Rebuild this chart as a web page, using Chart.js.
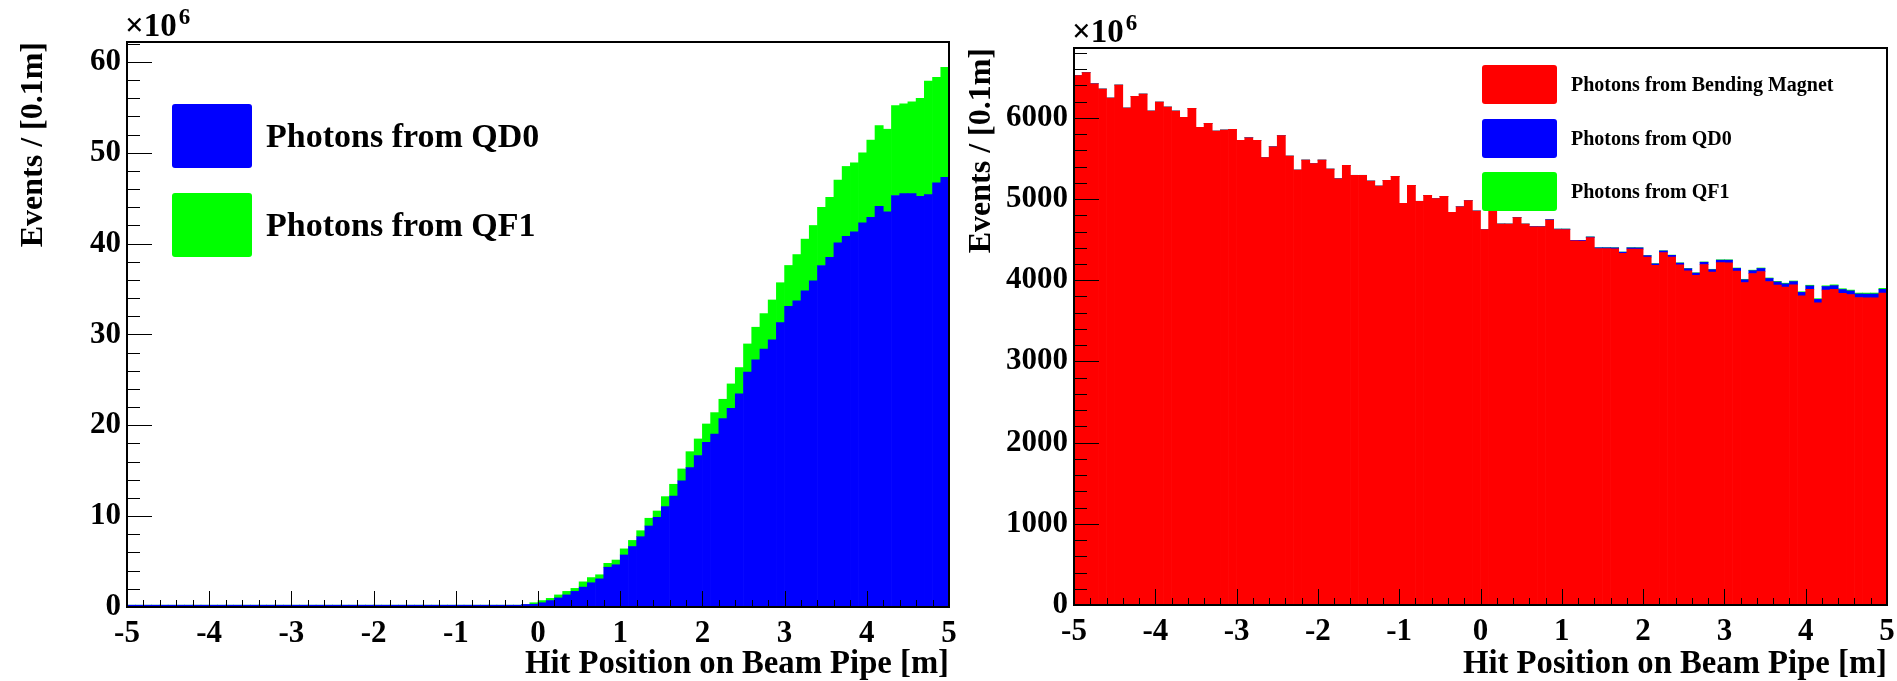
<!DOCTYPE html>
<html>
<head>
<meta charset="utf-8">
<script src="https://cdn.jsdelivr.net/npm/chart.js@4.4.1/dist/chart.umd.min.js"></script>
<style>
  body { margin: 0; width: 1897px; height: 681px; overflow: hidden; position: relative; background: #fff; }
  canvas { position: absolute; top: 0; }
  #left { left: 0; }
  #right { left: 948px; }
  .key { position: absolute; border-radius: 3px; }
  .keytext { position: absolute; white-space: nowrap; color: #000;
             font-family: "Liberation Serif", serif; font-weight: bold; }
  .expo { position: absolute; white-space: nowrap; color: #000;
          font-family: "Liberation Serif", serif; font-weight: bold;
          font-size: 33px; line-height: 33px; }
  .expo span { font-size: 23px; position: relative; top: -12px; margin-left: 2px; }
</style>
</head>
<body>
<canvas id="left" width="975" height="681"></canvas>
<canvas id="right" width="949" height="681"></canvas>

<script>
// binning: 100 bins of 0.1 m between -5 and 5
var binLow = -5, binHigh = 5, binCount = 100;
var binCenters = [];
for (var i = 0; i < binCount; i++) {
  binCenters.push(+(binLow + (i + 0.5) * (binHigh - binLow) / binCount).toFixed(2));
}

var xTickValues = [-5, -4, -3, -2, -1, 0, 1, 2, 3, 4, 5];
var yTicksLeft = [0, 10, 20, 30, 40, 50, 60];
var yTicksRight = [0, 1000, 2000, 3000, 4000, 5000, 6000];

// events per bin, units of 1e6
var qd0Values = [
  0.2, 0.2, 0.2, 0.2, 0.2, 0.2, 0.2, 0.2, 0.2, 0.2,
  0.2, 0.2, 0.2, 0.2, 0.2, 0.2, 0.2, 0.2, 0.2, 0.2,
  0.2, 0.2, 0.2, 0.2, 0.2, 0.2, 0.2, 0.2, 0.2, 0.2,
  0.2, 0.2, 0.2, 0.2, 0.2, 0.2, 0.2, 0.2, 0.2, 0.2,
  0.2, 0.2, 0.2, 0.2, 0.2, 0.2, 0.2, 0.2, 0.28, 0.3,
  0.47, 0.71, 1.0, 1.33, 1.72, 2.19, 2.67, 3.1, 4.38, 4.65,
  5.73, 6.66, 7.74, 8.92, 9.88, 11.05, 12.22, 13.88, 15.34, 16.67,
  18.14, 19.05, 20.74, 21.88, 23.46, 25.85, 27.2, 28.4, 29.4, 31.3,
  33.1, 33.7, 34.8, 35.9, 37.6, 38.5, 40.1, 40.8, 41.3, 42.3,
  42.9, 44.1, 43.5, 45.3, 45.5, 45.5, 45.2, 45.4, 46.7, 47.3
];
var qf1Values = [
  0, 0, 0, 0, 0, 0, 0, 0, 0, 0,
  0, 0, 0, 0, 0, 0, 0, 0, 0, 0,
  0, 0, 0, 0, 0, 0, 0, 0, 0, 0,
  0, 0, 0, 0, 0, 0, 0, 0, 0, 0,
  0, 0, 0, 0, 0, 0, 0, 0, 0, 0.17,
  0.24, 0.24, 0.33, 0.39, 0.33, 0.58, 0.57, 0.45, 0.43, 0.52,
  0.67, 0.67, 0.66, 0.85, 0.69, 1.1, 1.29, 1.32, 1.76, 1.83,
  2.01, 2.35, 2.13, 2.68, 2.9, 3.11, 3.6, 3.9, 4.4, 4.4,
  4.5, 5.1, 5.7, 6.1, 6.4, 6.6, 6.9, 7.7, 7.6, 7.7,
  8.5, 8.9, 9.1, 9.9, 9.9, 10.1, 10.8, 12.5, 11.6, 12.1
];
var bendValues = [
  6519, 6556, 6420, 6355, 6244, 6404, 6121, 6264, 6293, 6084,
  6194, 6133, 6084, 6006, 6117, 5883, 5932, 5837, 5850, 5858,
  5723, 5755, 5723, 5509, 5644, 5780, 5529, 5357, 5480, 5435,
  5480, 5369, 5250, 5415, 5292, 5292, 5222, 5160, 5230, 5279,
  4947, 5168, 4972, 5045, 5005, 5033, 4836, 4905, 4980, 4853,
  4623, 4895, 4692, 4691, 4771, 4690, 4658, 4657, 4742, 4625,
  4624, 4484, 4483, 4524, 4390, 4389, 4387, 4332, 4384, 4382,
  4285, 4183, 4340, 4285, 4188, 4116, 4061, 4193, 4101, 4216,
  4214, 4112, 3971, 4082, 4107, 3983, 3939, 3915, 3942, 3808,
  3887, 3720, 3879, 3888, 3840, 3823, 3786, 3784, 3784, 3841
];

var seriesNames = ["Photons from Bending Magnet", "Photons from QD0", "Photons from QF1"];
var seriesColors = ["#ff0000", "#0000ff", "#00ff00"];

var xTitle = "Hit Position on Beam Pipe [m]";
var yTitle = "Events / [0.1m]";

var serif = "'Liberation Serif', 'DejaVu Serif', serif";

function points(values) {
  return values.map(function (v, i) { return { x: binCenters[i], y: v }; });
}

function histSet(name, values) {
  var k = seriesNames.indexOf(name);
  return {
    label: name,
    data: points(values),
    backgroundColor: seriesColors[k],
    borderWidth: 0,
    borderSkipped: false,
    barPercentage: 1.0,
    categoryPercentage: 1.0,
  };
}

function fixedTicks(values) {
  return function (scale) {
    scale.ticks = values.map(function (v) { return { value: v }; });
  };
}

// ROOT style frame: inward major/minor ticks and the box
var rootFrame = {
  id: "rootFrame",
  afterDatasetsDraw: function (chart, args, opts) {
    var ctx = chart.ctx, a = chart.chartArea;
    var x = chart.scales.x, y = chart.scales.y;
    ctx.save();
    ctx.strokeStyle = "#000";
    ctx.lineWidth = 1;
    ctx.beginPath();
    var nx = Math.round((x.max - x.min) / opts.xMinor);
    for (var k = 0; k <= nx; k++) {
      var px = Math.round(x.getPixelForValue(x.min + k * opts.xMinor)) + 0.5;
      var len = k % 5 === 0 ? 16 : 7;
      ctx.moveTo(px, a.bottom);
      ctx.lineTo(px, a.bottom - len);
    }
    var ny = Math.floor(y.max / opts.yMinor + 1e-6);
    for (var j = 0; j <= ny; j++) {
      var py = Math.round(y.getPixelForValue(j * opts.yMinor)) + 0.5;
      var ylen = j % 5 === 0 ? 25 : 13;
      ctx.moveTo(a.left, py);
      ctx.lineTo(a.left + ylen, py);
    }
    ctx.stroke();
    ctx.lineWidth = 2;
    ctx.strokeRect(a.left, a.top, a.right - a.left, a.bottom - a.top);
    ctx.restore();
  },
};

function makeChart(id, datasets, cfg) {
  var ctx = document.getElementById(id).getContext("2d");
  return new Chart(ctx, {
    type: "bar",
    data: { datasets: datasets },
    plugins: [rootFrame],
    options: {
      responsive: false,
      devicePixelRatio: 1,
      animation: false,
      layout: { padding: { top: cfg.padTop, right: cfg.padRight, left: 0, bottom: 0 } },
      plugins: {
        legend: { display: false },
        tooltip: { enabled: false },
        rootFrame: { xMinor: 0.2, yMinor: cfg.yMinor },
      },
      scales: {
        x: {
          type: "linear",
          stacked: true,
          offset: false,
          min: binLow,
          max: binHigh,
          grid: { display: false, drawTicks: false, offset: false },
          border: { display: false },
          afterBuildTicks: fixedTicks(xTickValues),
          afterFit: function (scale) {
            scale.height = cfg.xHeight;
            scale.paddingLeft = 0;
            scale.paddingRight = 0;
          },
          ticks: {
            maxRotation: 0,
            autoSkip: false,
            padding: 8,
            color: "#000",
            font: { family: serif, weight: "bold", size: 31 },
            callback: function (value) { return String(value); },
          },
          title: {
            display: true,
            text: xTitle,
            align: "end",
            color: "#000",
            padding: { top: 0, bottom: 0 },
            font: { family: serif, weight: "bold", size: 32.7, lineHeight: 1 },
          },
        },
        y: {
          stacked: true,
          min: 0,
          max: cfg.yMax,
          grid: { display: false, drawTicks: false },
          border: { display: false },
          afterBuildTicks: fixedTicks(cfg.yTicks),
          afterFit: function (scale) {
            scale.width = cfg.yWidth;
          },
          ticks: {
            autoSkip: false,
            padding: 6,
            color: "#000",
            font: { family: serif, weight: "bold", size: 31 },
            callback: function (value) { return String(value); },
          },
          title: {
            display: true,
            text: yTitle,
            align: "end",
            color: "#000",
            padding: { top: 18, bottom: 0 },
            font: { family: serif, weight: "bold", size: 32, lineHeight: 1 },
          },
        },
      },
    },
  });
}

var leftChart = makeChart("left", [
  histSet("Photons from QD0", qd0Values),
  histSet("Photons from QF1", qf1Values),
], { padTop: 42, padRight: 26, xHeight: 74, yWidth: 127, yMax: 62.2, yTicks: yTicksLeft, yMinor: 2 });

var rightChart = makeChart("right", [
  histSet("Photons from Bending Magnet", bendValues),
  histSet("Photons from QD0", qd0Values),
  histSet("Photons from QF1", qf1Values),
], { padTop: 48, padRight: 10, xHeight: 76, yWidth: 126, yMax: 6860, yTicks: yTicksRight, yMinor: 200 });

// "x10^6" exponent above each frame
function addExponent(chart, canvasLeft) {
  var a = chart.chartArea;
  var d = document.createElement("div");
  d.className = "expo";
  d.appendChild(document.createTextNode("\u00d710"));
  var s = document.createElement("span");
  s.textContent = "6";
  d.appendChild(s);
  d.style.left = (canvasLeft + a.left - 2) + "px";
  d.style.top = (a.top - 33) + "px";
  document.body.appendChild(d);
}
addExponent(leftChart, 0);
addExponent(rightChart, 948);

// legends, built from the series names and colours
function addLegend(names, box) {
  names.forEach(function (name, k) {
    var top = box.top + k * box.pitch;
    var sw = document.createElement("div");
    sw.className = "key";
    sw.style.left = box.left + "px";
    sw.style.top = top + "px";
    sw.style.width = box.w + "px";
    sw.style.height = box.h + "px";
    sw.style.background = seriesColors[seriesNames.indexOf(name)];
    document.body.appendChild(sw);
    var tx = document.createElement("div");
    tx.className = "keytext";
    tx.textContent = name;
    tx.style.left = box.textLeft + "px";
    tx.style.top = top + "px";
    tx.style.height = box.h + "px";
    tx.style.lineHeight = box.h + "px";
    tx.style.fontSize = box.font + "px";
    document.body.appendChild(tx);
  });
}

addLegend(["Photons from QD0", "Photons from QF1"],
  { left: 172, top: 104, pitch: 89, w: 80, h: 64, textLeft: 266, font: 34 });
addLegend(["Photons from Bending Magnet", "Photons from QD0", "Photons from QF1"],
  { left: 1482, top: 65, pitch: 53.5, w: 75, h: 39, textLeft: 1571, font: 20 });
</script>
</body>
</html>
